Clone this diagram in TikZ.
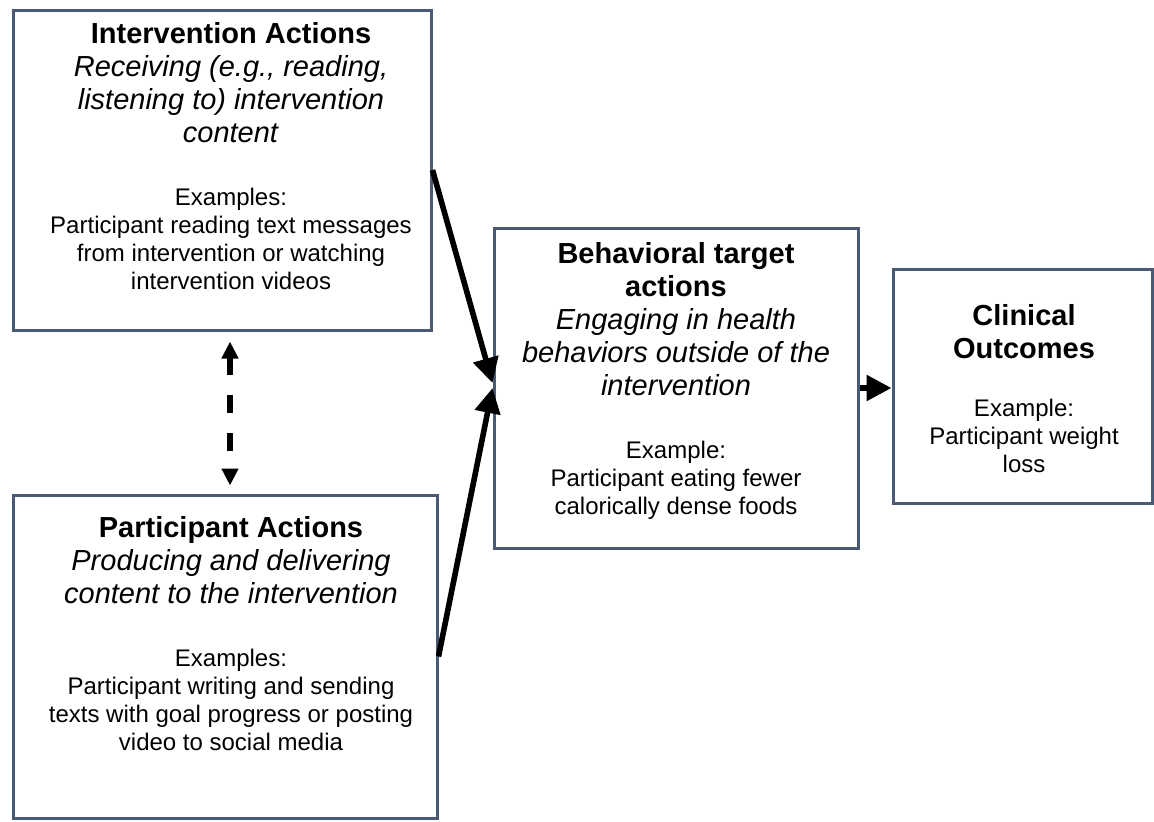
\documentclass[tikz,border=0pt]{standalone}
\usepackage{fontspec}
\setmainfont{Liberation Sans}
\usepackage{xcolor}
\usepackage{tikz}
\usetikzlibrary{arrows.meta, positioning}
\definecolor{BoxBorder}{HTML}{4A5A75}
\tikzstyle{box} = [rectangle, draw=BoxBorder, line width=1.5pt, inner sep=0pt]
\tikzstyle{heading} = [align=center, inner sep=0pt, outer sep=0pt, anchor=north, font=\fontsize{14.5}{16.5}\selectfont]
\tikzstyle{examples} = [align=center, inner sep=0pt, outer sep=0pt, font=\fontsize{12}{14}\selectfont]
\tikzstyle{arrow} = [line width=2.8pt, -{Triangle[length=12.5pt, width=12.5pt]}]
\tikzstyle{dasharrow} = [line width=2.8pt, dash pattern=on 9pt off 10pt, {Triangle[length=8.5pt, width=8pt]}-{Triangle[length=8.5pt, width=8pt]}, shorten <=5pt, shorten >=4pt]

\begin{document}
\begin{tikzpicture}[x=0.5pt, y=-0.5pt]
      \useasboundingbox (0,0) rectangle (1154,821);
      \node (interv) [box, minimum width=209pt, minimum height=160pt] at (222,170) {};
      \node (interv_head) [heading] at ([xshift=4.5pt, yshift=-7pt]interv.north) {\textbf{Intervention Actions}\\\textit{Receiving (e.g., reading,}\\\textit{listening to) intervention}\\\textit{content}};
      \node (interv_ex) [examples, below=22.8pt of interv_head] {Examples:\\Participant reading text messages\\from intervention or watching\\intervention videos};
      \node (partic) [box, minimum width=212pt, minimum height=161.5pt] at (225,656.5) {};
      \node (partic_head) [heading] at ([xshift=3pt, yshift=-11.5pt]partic.north) {\textbf{Participant Actions}\\\textit{Producing and delivering}\\\textit{content to the intervention}};
      \node (partic_ex) [examples, below=22.8pt of partic_head] {Examples:\\Participant writing and sending\\texts with goal progress or posting\\video to social media};
      \node (behav) [box, minimum width=182pt, minimum height=160pt] at (676,388) {};
      \node (behav_head) [heading] at ([yshift=-8pt]behav.north) {\textbf{Behavioral target}\\\textbf{actions}\\\textit{Engaging in health}\\\textit{behaviors outside of the}\\\textit{intervention}};
      \node (behav_ex) [examples, below=22.8pt of behav_head] {Example:\\Participant eating fewer\\calorically dense foods};
      \node (clinic) [box, minimum width=129.5pt, minimum height=117pt] at (1022.5,386) {};
      \node (clinic_head) [heading] at ([xshift=0.75pt, yshift=-18.5pt]clinic.north) {\textbf{Clinical}\\\textbf{Outcomes}};
      \node (clinic_ex) [examples, below=20pt of clinic_head] {Example:\\Participant weight\\loss};
      \draw [arrow] (interv.east) -- ([yshift=2.5pt]behav.west);
      \draw [arrow] (partic.east) -- (behav.west);
      \draw [arrow] (behav.east) -- (behav.east -| clinic.west);
      \draw [dasharrow] ([xshift=4pt]interv.south) -- ([xshift=2.5pt]partic.north);
\end{tikzpicture}
\end{document}
